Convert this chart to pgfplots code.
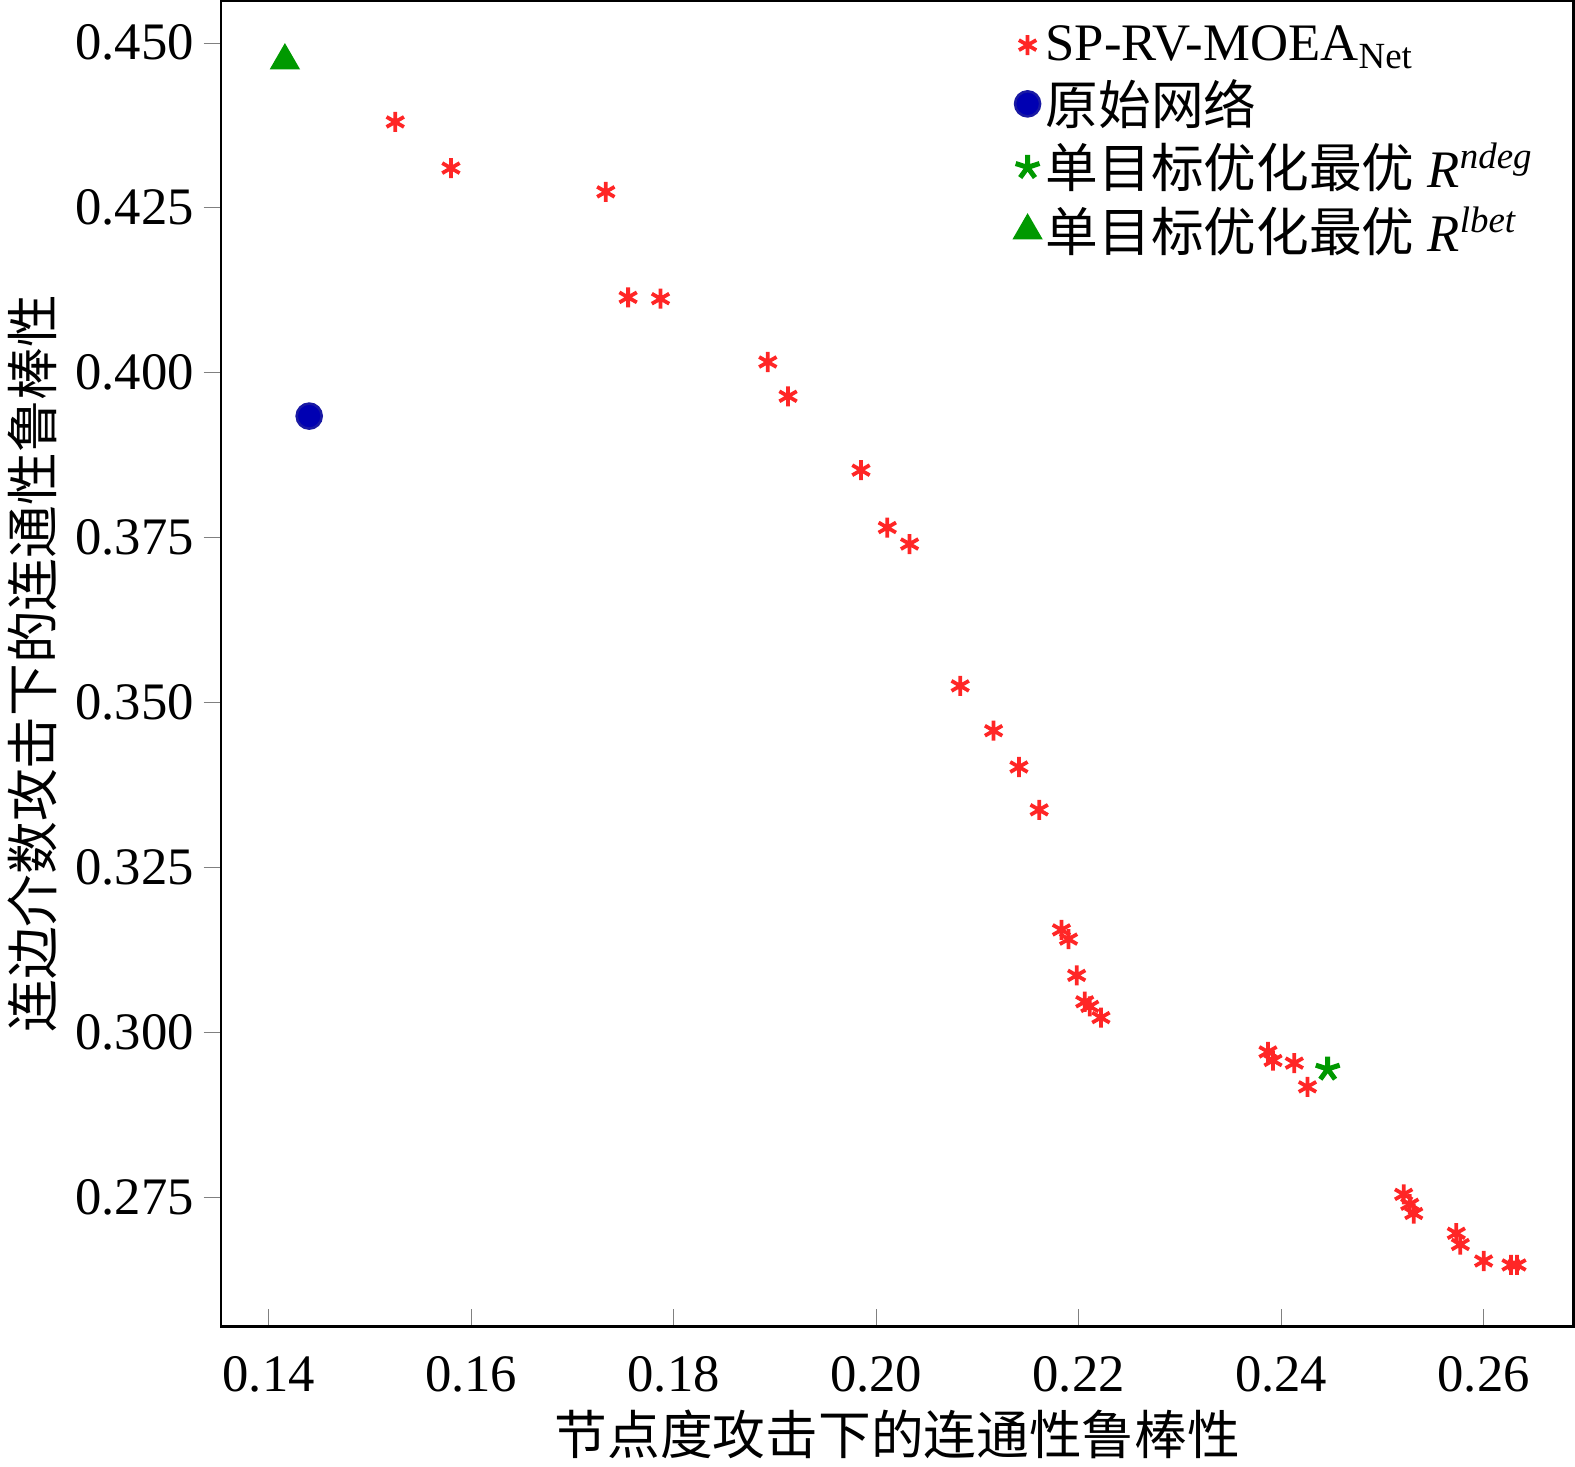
\documentclass[border=0pt]{standalone}
\usepackage{pgfplots}
\pgfplotsset{compat=1.18}
\usepackage{fontspec}
\setmainfont{Liberation Serif}
\newfontfamily\cjk{Noto Sans CJK SC}
\usetikzlibrary{plotmarks}
\begin{document}
\begin{tikzpicture}
\begin{axis}[
 width=539pt, height=528pt, scale only axis,
 xmin=0.1353, xmax=0.2689, ymin=0.2554, ymax=0.4563,
 xtick={0.14,0.16,...,0.261}, ytick={0.275,0.300,...,0.451},
 /pgf/number format/assume math mode=true,
 xticklabel style={/pgf/number format/fixed,/pgf/number format/fixed zerofill,/pgf/number format/precision=2,/tikz/yshift=-8pt},
 yticklabel style={/pgf/number format/fixed,/pgf/number format/fixed zerofill,/pgf/number format/precision=3},
 tick label style={font=\fontsize{21}{24}\selectfont},
 xtick pos=bottom, ytick pos=left,
 xtick align=inside, ytick align=outside,
 major tick length=7pt,
 line width=1pt,
 xlabel={\cjk 节点度攻击下的连通性鲁棒性},
 ylabel={\cjk 连边介数攻击下的连通性鲁棒性},
 label style={font=\fontsize{21}{24}\selectfont},
 legend style={draw=none, fill=none, at={(0.98,0.99)}, anchor=north east, font=\fontsize{21}{26}\selectfont, row sep=2pt},
 legend cell align=left,
]
\addplot[only marks, mark=asterisk, mark size=4pt, color=red!80!pink, line width=1.5pt] coordinates {
(0.1525,0.4380)(0.1580,0.4310)(0.1733,0.4274)(0.1755,0.4114)(0.1787,0.4112)
(0.1893,0.4016)(0.1913,0.3964)(0.1985,0.3852)(0.2011,0.3765)(0.2033,0.3740)
(0.2083,0.3525)(0.2116,0.3457)(0.2141,0.3402)(0.2161,0.3337)(0.2183,0.3155)
(0.2190,0.3141)(0.2198,0.3086)(0.2206,0.3046)(0.2211,0.3039)(0.2222,0.3022)
(0.2387,0.2970)(0.2392,0.2957)(0.2413,0.2953)(0.2426,0.2917)(0.2521,0.2754)
(0.2527,0.2739)(0.2531,0.2725)(0.2573,0.2695)(0.2577,0.2678)(0.2600,0.2653)
(0.2627,0.2647)(0.2633,0.2647)};
\addlegendentry{SP-RV-MOEA\textsubscript{Net}}
\addplot[only marks, mark=*, mark size=5pt, color=blue!60!black!90, fill=blue!70!black] coordinates {(0.1440,0.3934)};
\addlegendentry{\cjk 原始网络}
\addplot[only marks, mark=star, mark size=5pt, color=green!60!black, line width=2pt] coordinates {(0.2446,0.2944)};
\addlegendentry{{\cjk 单目标优化最优} \textit{R}\textsuperscript{\textit{ndeg}}}
\addplot[only marks, mark=triangle*, mark size=6pt, color=green!60!black] coordinates {(0.1416,0.4473)};
\addlegendentry{{\cjk 单目标优化最优} \textit{R}\textsuperscript{\textit{lbet}}}
\end{axis}
\end{tikzpicture}
\end{document}
